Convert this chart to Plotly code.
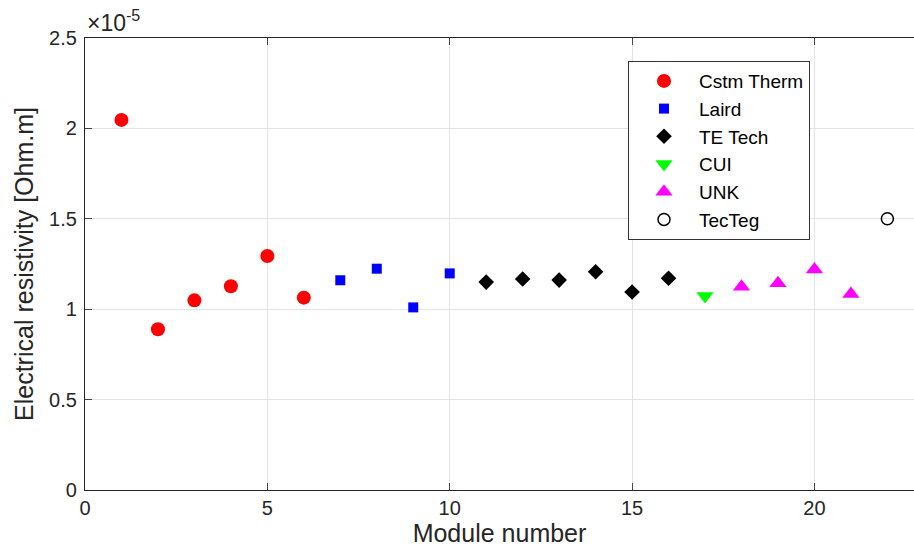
import plotly.graph_objects as go

# Electrical resistivity per module, grouped by manufacturer (Ohm.m)
cstm_x = [1, 2, 3, 4, 5, 6]
cstm_y = [2.047e-5, 0.889e-5, 1.049e-5, 1.127e-5, 1.294e-5, 1.064e-5]

laird_x = [7, 8, 9, 10]
laird_y = [1.160e-5, 1.224e-5, 1.010e-5, 1.198e-5]

tetech_x = [11, 12, 13, 14, 15, 16]
tetech_y = [1.150e-5, 1.167e-5, 1.161e-5, 1.207e-5, 1.095e-5, 1.171e-5]

cui_x = [17]
cui_y = [1.073e-5]

unk_x = [18, 19, 20, 21]
unk_y = [1.124e-5, 1.143e-5, 1.220e-5, 1.084e-5]

tecteg_x = [22]
tecteg_y = [1.500e-5]

y_tick_vals = [0, 0.5e-5, 1.0e-5, 1.5e-5, 2.0e-5, 2.5e-5]
y_tick_text = ["0", "0.5", "1", "1.5", "2", "2.5"]
x_tick_vals = [0, 5, 10, 15, 20]

series = [
    ("Cstm Therm", cstm_x, cstm_y, dict(symbol="circle", size=14, color="#ff0000")),
    ("Laird", laird_x, laird_y, dict(symbol="square", size=10, color="#0000ff")),
    ("TE Tech", tetech_x, tetech_y, dict(symbol="diamond", size=12, color="#000000")),
    ("CUI", cui_x, cui_y, dict(symbol="triangle-down", size=15, color="#00ff00")),
    ("UNK", unk_x, unk_y, dict(symbol="triangle-up", size=15, color="#ff00ff")),
    ("TecTeg", tecteg_x, tecteg_y, dict(symbol="circle-open", size=12, color="#000000",
                                        line=dict(width=1.5, color="#000000"))),
]

fig = go.Figure()
for name, xs, ys, mk in series:
    fig.add_trace(go.Scatter(x=xs, y=ys, mode="markers", name=name, marker=mk))

axis_color = "#262626"
fig.update_layout(
    width=914, height=558,
    margin=dict(l=85, r=0, t=38, b=68),
    paper_bgcolor="white", plot_bgcolor="white",
    font=dict(family="Arial, Liberation Sans, sans-serif", color=axis_color, size=20),
    showlegend=True,
    legend=dict(
        x=0.655, y=0.949, xanchor="left", yanchor="top",
        bgcolor="white", bordercolor="#333333", borderwidth=1,
        font=dict(size=19, color="#000000"),
        itemwidth=60,
    ),
    xaxis=dict(
        range=[0, 22.73], tickvals=x_tick_vals, ticks="inside", ticklen=7,
        showline=True, linecolor=axis_color, linewidth=1.2, mirror="ticks",
        showgrid=True, gridcolor="#e3e3e3", gridwidth=1, zeroline=False,
        title=dict(text="Module number", font=dict(size=25), standoff=6),
        tickfont=dict(size=20),
    ),
    yaxis=dict(
        range=[0, 2.5e-5], tickvals=y_tick_vals, ticktext=y_tick_text,
        ticks="inside", ticklen=7, ticklabelstandoff=3,
        showline=True, linecolor=axis_color, linewidth=1.2, mirror=False,
        showgrid=True, gridcolor="#e3e3e3", gridwidth=1, zeroline=False,
        title=dict(text="Electrical resistivity [Ohm.m]", font=dict(size=25), standoff=8),
        tickfont=dict(size=20),
    ),
)

fig.add_annotation(
    x=0, y=1, xref="paper", yref="paper", xanchor="left", yanchor="bottom",
    text="×10<sup>-5</sup>", showarrow=False, xshift=0, yshift=0,
    font=dict(size=23, color=axis_color),
)

fig.write_html("out.html")
